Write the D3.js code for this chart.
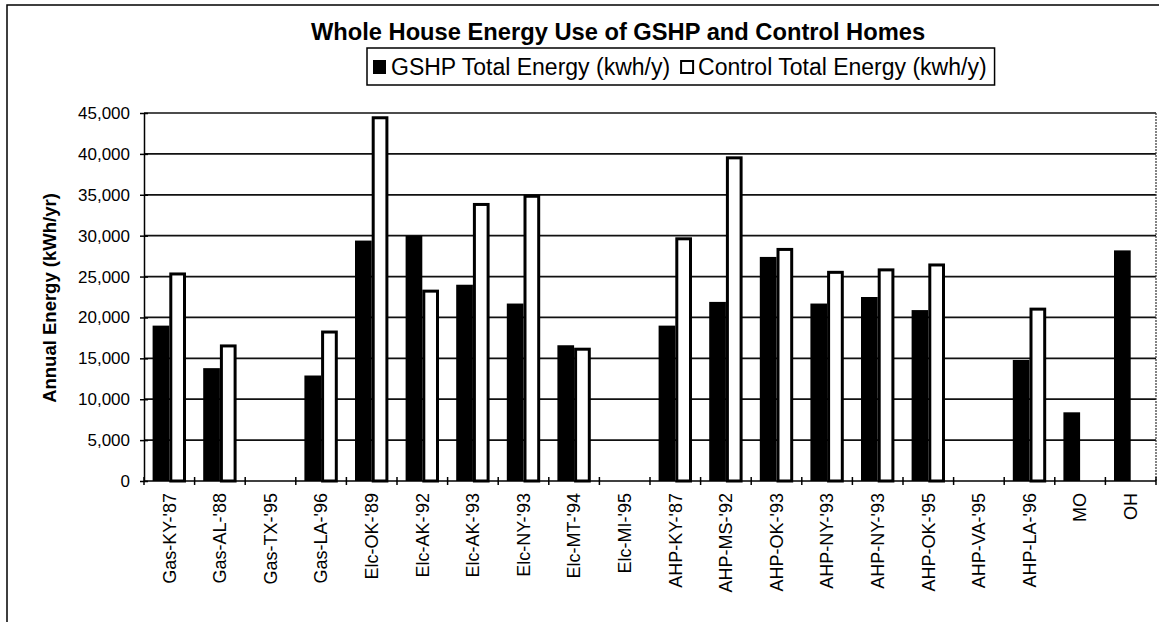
<!DOCTYPE html>
<html>
<head>
<meta charset="utf-8">
<script src="https://cdn.jsdelivr.net/npm/d3@7"></script>
<style>
html,body{margin:0;padding:0;background:#fff;}
svg{display:block;}
text{font-family:"Liberation Sans", Arial, Helvetica, sans-serif;fill:#000;}
</style>
</head>
<body>
<svg id="chart" width="1159" height="622"></svg>
<script>
const categories = ["Gas-KY-'87","Gas-AL-'88","Gas-TX-'95","Gas-LA-'96","Elc-OK-'89","Elc-AK-'92","Elc-AK-'93","Elc-NY-'93","Elc-MT-'94","Elc-MI-'95","AHP-KY-'87","AHP-MS-'92","AHP-OK-'93","AHP-NY-'93","AHP-NY-'93","AHP-OK-'95","AHP-VA-'95","AHP-LA-'96","MO","OH"];
const gshpValues = [19000,13800,null,12900,29400,30000,24000,21700,16600,null,19000,21900,27400,21700,22500,20900,null,14800,8400,28200];
const controlValues = [25500,16700,null,18400,44600,23400,34000,35000,16300,null,29800,39700,28500,25700,26000,26600,null,21200,null,null];
const seriesNames = ["GSHP Total Energy (kwh/y)","Control Total Energy (kwh/y)"];
const yTicks = [0,5000,10000,15000,20000,25000,30000,35000,40000,45000];
const titleText = "Whole House Energy Use of GSHP and Control Homes";
const yTitle = "Annual Energy (kWh/yr)";

const svg = d3.select("#chart");
const plot = {left:144, right:1156, top:113, bottom:481};

// outer chart border
svg.append("rect").attr("x",7).attr("y",5).attr("width",1170).attr("height",640)
  .attr("fill","none").attr("stroke","#000").attr("stroke-width",1.5);

const idx = categories.map((d,i)=>i);
const x0 = d3.scaleBand().domain(idx).range([plot.left, plot.right]).padding(0);
const bw = x0.bandwidth();
const x1 = d3.scaleBand().domain([0,1]).range([bw*0.17, bw*0.83]).padding(0);
const y = d3.scaleLinear().domain([0,45000]).range([plot.bottom, plot.top]);

// gridlines
svg.append("g").selectAll("line").data(yTicks.filter(d=>d>0)).join("line")
  .attr("x1",plot.left).attr("x2",plot.right)
  .attr("y1",d=>y(d)).attr("y2",d=>y(d))
  .attr("stroke","#111").attr("stroke-width",1.7);

// right plot edge (dotted)
svg.append("line").attr("x1",plot.right).attr("x2",plot.right)
  .attr("y1",plot.top).attr("y2",plot.bottom)
  .attr("stroke","#333").attr("stroke-width",1.2).attr("stroke-dasharray","2,1");

// bars
const groups = svg.append("g").selectAll("g").data(idx).join("g")
  .attr("transform",i=>`translate(${x0(i)},0)`);

groups.filter(i=>gshpValues[i]!=null).append("rect")
  .attr("x",x1(0)).attr("width",x1.bandwidth())
  .attr("y",i=>y(gshpValues[i])).attr("height",i=>y(0)-y(gshpValues[i]))
  .attr("fill","#000");

groups.filter(i=>controlValues[i]!=null).append("rect")
  .attr("x",x1(1)+1.5).attr("width",x1.bandwidth()-3)
  .attr("y",i=>y(controlValues[i])+1.5).attr("height",i=>y(0)-y(controlValues[i])-1.5)
  .attr("fill","#fff").attr("stroke","#000").attr("stroke-width",3);

// y axis
const yAxis = svg.append("g").attr("transform",`translate(${plot.left},0)`)
  .call(d3.axisLeft(y).tickValues(yTicks).tickFormat(d3.format(",")).tickSizeInner(4).tickSizeOuter(0).tickPadding(10));
yAxis.select(".domain").attr("stroke","#000").attr("stroke-width",1.5);
yAxis.selectAll(".tick line").attr("x2",-4).attr("x1",4).attr("stroke","#000").attr("stroke-width",1.5);
yAxis.selectAll(".tick text").attr("font-size",17).attr("font-family","Liberation Sans, Arial, sans-serif");

// x axis with ticks between categories
const xAxis = svg.append("g").attr("transform",`translate(0,${plot.bottom})`);
xAxis.append("line").attr("x1",plot.left).attr("x2",plot.right).attr("y1",0).attr("y2",0)
  .attr("stroke","#000").attr("stroke-width",1.5);
const boundaries = idx.map(i=>x0(i)).concat([x0(idx[idx.length-1])+bw]);
xAxis.selectAll("line.tk").data(boundaries).join("line").attr("class","tk")
  .attr("x1",d=>d).attr("x2",d=>d).attr("y1",-4).attr("y2",4)
  .attr("stroke","#000").attr("stroke-width",1.5);
xAxis.selectAll("text").data(idx).join("text")
  .attr("transform",i=>`translate(${x0(i)+bw/2},12) rotate(-90)`)
  .attr("text-anchor","end").attr("dy","0.35em").attr("font-size",18)
  .text(i=>categories[i]);

// y title
svg.append("text").attr("transform","translate(50,298) rotate(-90)")
  .attr("text-anchor","middle").attr("dy","0.35em")
  .attr("font-size",18.5).attr("font-weight","bold").text(yTitle);

// title
svg.append("text").attr("x",618).attr("y",40).attr("text-anchor","middle")
  .attr("font-size",23.7).attr("font-weight","bold").text(titleText);

// legend
const lg = svg.append("g");
const lbox = lg.append("rect").attr("x",367).attr("y",48).attr("height",37)
  .attr("fill","#fff").attr("stroke","#000").attr("stroke-width",1.5);
lg.append("rect").attr("x",373).attr("y",60).attr("width",13).attr("height",14).attr("fill","#000");
const t1 = lg.append("text").attr("x",391).attr("y",75).attr("font-size",23).text(seriesNames[0]);
const t1end = 391 + t1.node().getComputedTextLength();
lg.append("rect").attr("x",t1end+11).attr("y",61).attr("width",12).attr("height",12)
  .attr("fill","#fff").attr("stroke","#000").attr("stroke-width",2);
const t2 = lg.append("text").attr("x",t1end+28).attr("y",75).attr("font-size",23).text(seriesNames[1]);
const t2end = t1end + 28 + t2.node().getComputedTextLength();
lbox.attr("width",t2end+8-367);
</script>
</body>
</html>
